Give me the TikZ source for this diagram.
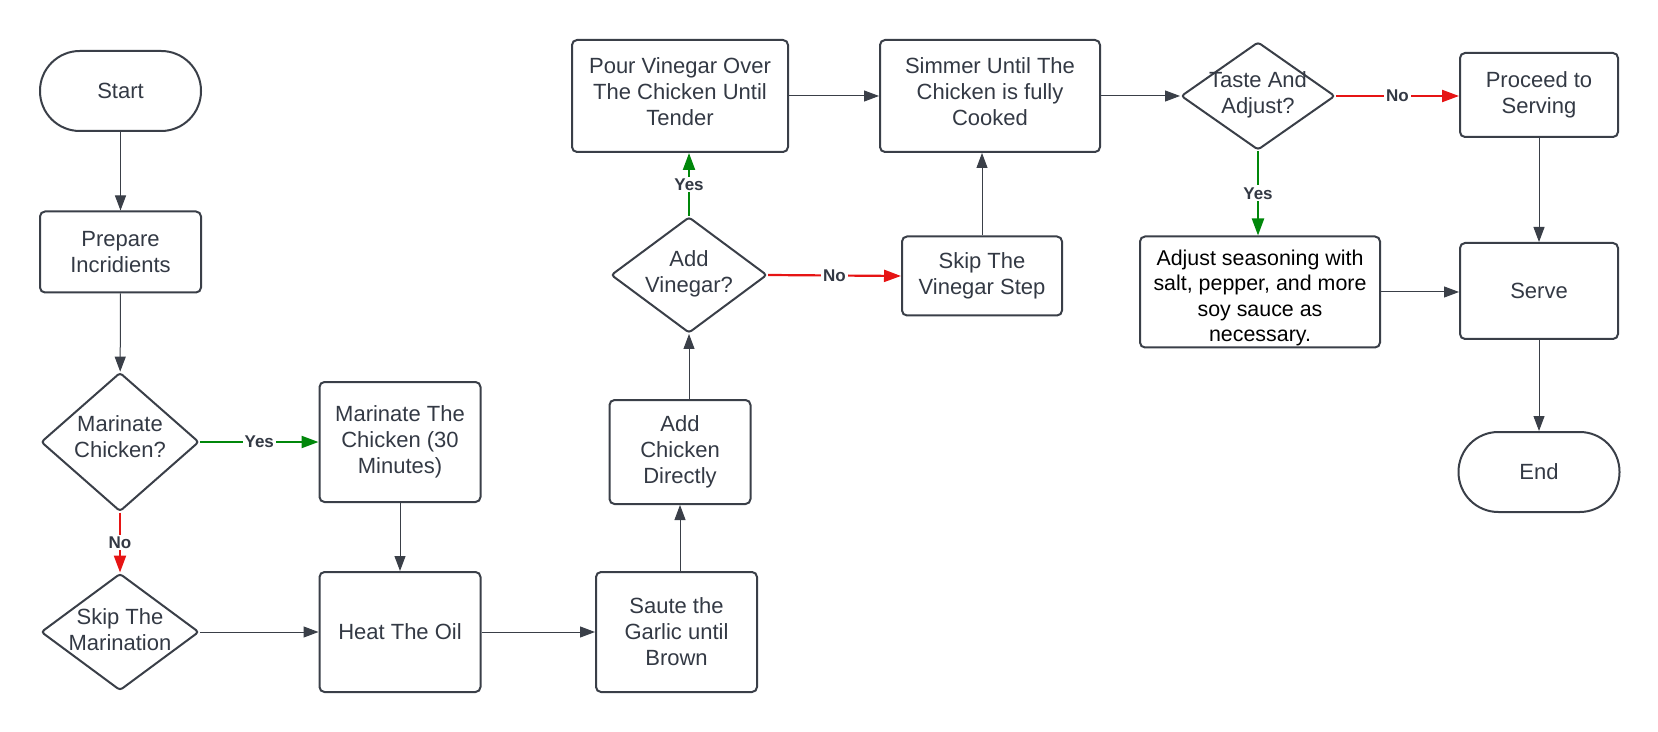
\documentclass[tikz,border=0pt]{standalone}
\usepackage{fontspec}
\setmainfont{Liberation Sans}
\usetikzlibrary{shapes.geometric,arrows.meta}
\definecolor{ln}{RGB}{58,63,72}
\definecolor{tx}{RGB}{51,57,68}
\definecolor{gr}{RGB}{0,135,10}
\definecolor{rd}{RGB}{230,20,20}
\begin{document}
\begin{tikzpicture}[x=0.5pt,y=-0.5pt,
 font=\fontsize{11}{13}\selectfont, text=tx,
 box/.style={draw=ln, line width=1pt, rounded corners=2.5pt, align=center, inner sep=0pt},
 term/.style={draw=ln, line width=1pt, rounded corners=19.9pt, minimum width=80.5pt, minimum height=40pt, inner sep=0pt},
 dia/.style={draw=ln, line width=1pt, diamond, inner sep=0pt, rounded corners=1.5pt},
 dtxt/.style={align=center, inner sep=0pt},
 conn/.style={draw=ln, line width=0.5pt, -{Triangle[length=7.5pt,width=5.5pt]}},
 yesc/.style={draw=gr, line width=1.1pt, -{Triangle[length=8.5pt,width=6pt]}},
 noc/.style={draw=rd, line width=1.1pt, -{Triangle[length=8.5pt,width=6pt]}},
 lab/.style={font=\fontsize{8.5}{9}\selectfont\bfseries, text=tx, fill=white, inner sep=1pt}
]
\useasboundingbox (0,0) rectangle (1658,732);

\node[term] (start) at (120.5,91) {Start};
\node[box, minimum width=80.5pt, minimum height=40.5pt] (prep) at (120.5,252) {Prepare\\Incridients};
\node[dia, minimum width=79pt, minimum height=69.5pt] (m1) at (120,442) {};
\node[dtxt] (m1t) at (120,437) {Marinate\\Chicken?};
\node[dia, minimum width=79pt, minimum height=58.5pt] (skm) at (120,632) {};
\node[dtxt] (skmt) at (120,630) {Skip The\\Marination};
\node[box, minimum width=80.5pt, minimum height=60pt] (mar) at (400,442) {Marinate The\\Chicken (30\\Minutes)};
\node[box, minimum width=80.5pt, minimum height=60pt] (heat) at (400,632) {Heat The Oil};
\node[box, minimum width=80.5pt, minimum height=60pt] (saute) at (676.5,632) {Saute the\\Garlic until\\Brown};
\node[box, minimum width=70.5pt, minimum height=52pt] (addc) at (680,452) {Add\\Chicken\\Directly};
\node[dia, minimum width=78pt, minimum height=58pt] (addv) at (689,275) {};
\node[dtxt] (addvt) at (689,274) {Add\\Vinegar?};
\node[box, minimum width=108pt, minimum height=56pt] (pour) at (680,96) {};
\node[dtxt] (pourt) at (680,92) {Pour Vinegar Over\\The Chicken Until\\Tender};
\node[box, minimum width=110pt, minimum height=56pt] (sim) at (990,96) {};
\node[dtxt] (simt) at (990,92) {Simmer Until The\\Chicken is fully\\Cooked};
\node[box, minimum width=80pt, minimum height=39.5pt] (skv) at (982,276) {Skip The\\Vinegar Step};
\node[dia, minimum width=77pt, minimum height=54pt] (taste) at (1258,96) {};
\node[dtxt] (tastet) at (1258,95) {Taste And\\Adjust?};
\node[box, minimum width=79pt, minimum height=42pt] (proc) at (1539,95) {Proceed to\\Serving};
\node[box, minimum width=120pt, minimum height=55.5pt] (adj) at (1260,292) {};
\node[dtxt, text=black, font=\fontsize{10.7}{12.6}\selectfont] (adjt) at (1260,298) {Adjust seasoning with\\salt, pepper, and more\\soy sauce as\\necessary.};
\node[box, minimum width=79pt, minimum height=48pt] (serve) at (1539,291) {Serve};
\node[term] (end) at (1539,472) {End};

\draw[conn] (start) -- (prep);
\draw[conn] (prep) -- (m1);
\draw[yesc] (m1.east) -- node[lab] (ly1) {Yes} (mar.west);
\draw[noc] (m1.south) -- node[lab] (ln1) {No} (skm.north);
\draw[conn] (skm.east) -- (heat.west);
\draw[conn] (mar) -- (heat);
\draw[conn] (heat) -- (saute);
\draw[conn] (saute.north -| addc.south) -- (addc.south);
\draw[conn] (addc.north -| addv.south) -- (addv.south);
\draw[yesc] (addv.north) -- node[lab] (ly2) {Yes} (addv.north |- pour.south);
\draw[noc] (addv.east) -- node[lab] (ln2) {No} (skv.west);
\draw[conn] (skv.north) -- (skv.north |- sim.south);
\draw[conn] (pour.east) -- (sim.west);
\draw[conn] (sim.east) -- (taste.west);
\draw[noc] (taste.east) -- node[lab] (ln3) {No} (taste.east -| proc.west);
\draw[yesc] (taste.south) -- node[lab] (ly3) {Yes} (taste.south |- adj.north);
\draw[conn] (adj.east) -- (adj.east -| serve.west);
\draw[conn] (proc) -- (serve);
\draw[conn] (serve) -- (end);
\end{tikzpicture}
\end{document}
